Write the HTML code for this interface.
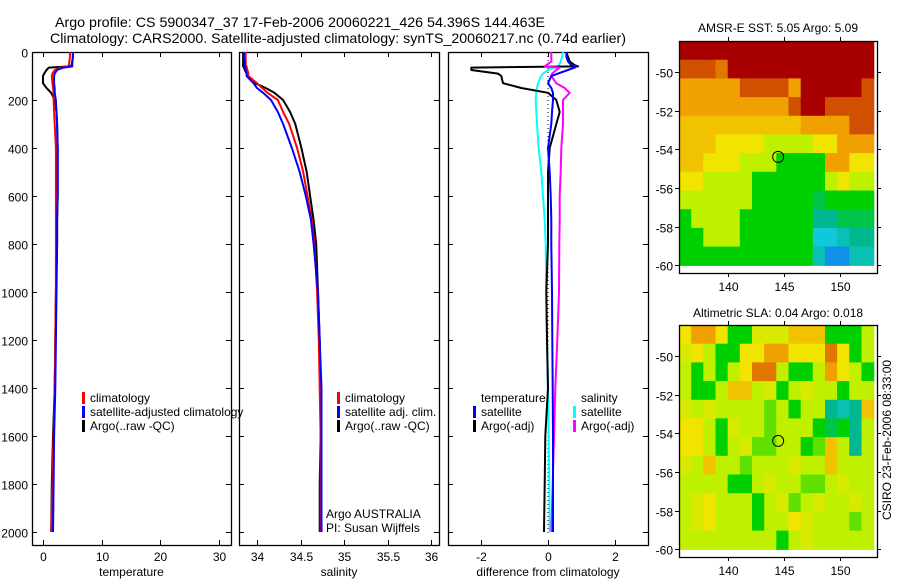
<!DOCTYPE html>
<html><head><meta charset="utf-8"><style>
html,body{margin:0;padding:0;background:#fff;}
svg{display:block;font-family:"Liberation Sans",sans-serif;}
</style></head><body>
<svg id="fig" width="900" height="580" viewBox="0 0 900 580" xmlns="http://www.w3.org/2000/svg">
<text x="55" y="27" font-size="14" textLength="490" lengthAdjust="spacingAndGlyphs">Argo profile: CS 5900347_37 17-Feb-2006 20060221_426 54.396S 144.463E</text>
<text x="50" y="43" font-size="14" textLength="576" lengthAdjust="spacingAndGlyphs">Climatology: CARS2000. Satellite-adjusted climatology: synTS_20060217.nc (0.74d earlier)</text>
<text x="778" y="32" font-size="12" text-anchor="middle">AMSR-E SST: 5.05 Argo: 5.09</text>
<text x="778" y="317" font-size="12" text-anchor="middle">Altimetric SLA: 0.04 Argo: 0.018</text>
<text transform="translate(891,440) rotate(-90)" font-size="12" text-anchor="middle">CSIRO 23-Feb-2006 08:33:00</text>
</svg>
<script>
// ---------- data ----------
const depths = [0,20,40,55,60,65,75,90,100,130,150,170,200,250,300,400,500,600,700,800,1000,1200,1400,1600,1800,2000];
const tempClim = [4.6,4.6,4.5,4.4,4.3,3.0,2.0,1.6,1.5,1.6,1.7,1.8,1.8,1.9,2.0,2.2,2.2,2.2,2.2,2.2,2.2,2.1,2.0,1.8,1.6,1.4];
const tempSat  = [5.1,5.1,5.0,5.0,5.0,3.5,2.4,2.0,1.9,1.9,2.0,2.0,2.2,2.3,2.4,2.5,2.5,2.5,2.4,2.4,2.3,2.2,2.1,1.9,1.8,1.7];
const tempArgo = [5.1,5.1,5.0,4.9,4.5,1.0,0.6,0.2,0.0,0.0,0.6,1.4,2.0,2.3,2.4,2.5,2.5,2.5,2.4,2.4,2.2,2.1,2.0,1.7,1.5,1.4];
const salClim  = [33.87,33.87,33.87,33.87,33.88,33.88,33.89,33.9,33.9,34.0,34.06,34.12,34.24,34.3,34.37,34.46,34.53,34.58,34.63,34.66,34.69,34.71,34.72,34.73,34.73,34.73];
const salSat   = [33.85,33.85,33.86,33.86,33.86,33.87,33.87,33.88,33.88,33.96,34.0,34.07,34.16,34.24,34.3,34.4,34.49,34.56,34.62,34.65,34.7,34.72,34.74,34.74,34.74,34.74];
const salArgo  = [33.84,33.84,33.84,33.84,33.84,33.85,33.86,33.88,33.89,33.98,34.1,34.2,34.3,34.38,34.44,34.51,34.57,34.61,34.65,34.68,34.7,34.72,34.73,34.73,34.72,34.72];
const dTempSat  = [0.55,0.55,0.6,0.7,0.85,0.8,0.6,0.3,0.1,0.0,0.1,0.15,0.15,0.12,0.1,0.0,0.05,0.08,0.1,0.1,0.12,0.13,0.14,0.15,0.15,0.15];
const dTempArgo = [0.55,0.6,0.65,0.8,0.9,-2.3,-2.3,-1.5,-1.4,-1.35,-0.8,0.0,0.25,0.35,0.25,0.05,0.0,0.0,0.0,0.0,-0.05,-0.03,0.0,-0.08,-0.1,-0.12];
const dSalSat   = [0.45,0.42,0.38,0.33,0.3,0.2,0.0,-0.15,-0.2,-0.3,-0.33,-0.35,-0.37,-0.35,-0.33,-0.28,-0.2,-0.15,-0.1,-0.07,-0.05,-0.03,0.0,0.02,0.04,0.05];
const dSalArgo  = [0.1,0.1,0.1,-0.05,-0.1,0.35,0.25,0.12,0.1,0.25,0.5,0.65,0.45,0.45,0.45,0.4,0.38,0.35,0.35,0.34,0.33,0.28,0.22,0.18,0.14,0.1];
const depthTicks = [0,200,400,600,800,1000,1200,1400,1600,1800,2000];
const tempTicks = [0,10,20,30];
const salTicks = [34,34.5,35,35.5,36];
const diffTicks = [-2,0,2];
const latTicks = [-50,-52,-54,-56,-58,-60];
const lonTicks = [140,145,150];
const argoLon = 144.463, argoLat = -54.396;
// map grids: 12 rows (north->south) x 16 cols (west->east), colour index 1(blue)..9(dark red)
const sstGrid = [
[9,9,9,9,9,9,9,9,9,9,9,9,9,9,9,9],
[8,8,8,7.5,9,9,9,9,9,9,9,9,9,9,9,9],
[7,7,7,7,7,8,8,8,8,7,9,9,9,9,9,8],
[7,7,7,7,7,7,7,7,7,8,9,9,8,8,8,8],
[6.5,6.5,6.5,6.5,6.5,6.5,6.5,6.5,6.5,6.5,7,7,7,7,8,8],
[6.5,6.5,6.5,6,6,6,6,5,5,5,5,6,6,7,7,7],
[6.5,6.5,6,6,6,5,5,5,4,4,4,4,7,7,6,6],
[6,6,5,5,5,5,4,4,4,4,4,4,5,6,5,5],
[5,5,5,5,5,5,4,4,4,4,4,3.5,4,4,4,4],
[4,5,5,5,5,4,4,4,4,4,4,3,3,3.5,3.5,3.5],
[4,4,5,5,5,4,4,4,4,4,4,2,2,2.5,3,3],
[4,4,4,4,4,4,4,4,4,4,4,2.5,1,1,2.5,2.5]];
const slaGrid = [
[6,7,7,6,4,4,5.5,5.5,5.5,6.5,6.5,6.5,4,4,4,5],
[5.5,6,5,4,4,6,6,7,7,6,6,6,7.5,6,4,5],
[5,4,5,4,5,6,7.5,7.5,5,4,4,5,7,6,5,4],
[5,4,4,5,6.5,6.5,5,5.5,4,5,5.5,5,5,4,5,5],
[5.5,5,5.5,5,5,5,5,4.5,5,4,5,5,3,2.5,3,6.5],
[6,6,5,4,5.5,5,5,4.5,5,5,5,4,3.5,4,3,5],
[6,6,5,4,5,5.5,4.5,4.5,5,5,4,4.5,6.5,5,3,5],
[5.5,5,6.5,5,5,4.5,5,5,5,5.5,5,5,6.5,5,5,5],
[5,5,5,5,4,4,5,5.5,5,5,4.5,4.5,5,5.5,5,5],
[5,5.5,6,5,5,5,4,5,5.5,4.5,5,5.5,5,5,5.5,5],
[5,5.5,6,5,5,5,4,5,5,6,5.5,5,5,5,4.5,5],
[5,5,5,5,5,5,5,5,4,5,5.5,5,5,5,5,5]];

// ---------- helpers ----------
const NS="http://www.w3.org/2000/svg";
const svg=document.getElementById('fig');
function mk(tag,attrs,parent){const e=document.createElementNS(NS,tag);for(const k in attrs)e.setAttribute(k,attrs[k]);(parent||svg).appendChild(e);return e;}
const yTop=52, pxPerM=0.24;
const yD = d => yTop + d*pxPerM;
const panels = [
 {x0:32,x1:231,v0:-1.88,v1:32.1,ticks:tempTicks,label:'temperature',name:'temperature-panel'},
 {x0:239,x1:439,v0:33.793,v1:36.09,ticks:salTicks,label:'salinity',name:'salinity-panel'},
 {x0:448,x1:648,v0:-3,v1:3,ticks:diffTicks,label:'difference from climatology',name:'difference-panel'}];
const plotBottom=545;
function xs(p,v){return p.x0+(v-p.v0)/(p.v1-p.v0)*(p.x1-p.x0);}

panels.forEach((p,i)=>{
  const g=mk('g',{});
  
  
  const r=mk('rect',{x:p.x0+0.5,y:yTop+0.5,width:p.x1-p.x0,height:plotBottom-yTop,fill:'none',stroke:'#000','stroke-width':1.3},g);
  
  
  p.ticks.forEach(t=>{
    const x=Math.round(xs(p,t))+0.5;
    mk('line',{x1:x,x2:x,y1:plotBottom,y2:plotBottom-5,stroke:'#000'},g);
    mk('line',{x1:x,x2:x,y1:yTop,y2:yTop+5,stroke:'#000'},g);
    const tx=mk('text',{x:x,y:plotBottom+16,'font-size':12,'text-anchor':'middle'},g);
    tx.textContent=String(t);
    
    
  });
  depthTicks.forEach(d=>{
    const y=Math.round(yD(d))+0.5;
    mk('line',{x1:p.x0,x2:p.x0+5,y1:y,y2:y,stroke:'#000'},g);
    mk('line',{x1:p.x1-5,x2:p.x1,y1:y,y2:y,stroke:'#000'},g);
    if(i===0){
      const tx=mk('text',{x:p.x0-4,y:y+5,'font-size':12,'text-anchor':'end'},g);
      tx.textContent=String(d);
      
      
    }
  });
  const lab=mk('text',{x:(p.x0+p.x1)/2,y:576,'font-size':12,'text-anchor':'middle'},g);
  lab.textContent=p.label;
  
  
});

function profile(p,vals,color,name,w){
  let pts=vals.map((v,k)=>xs(p,v).toFixed(1)+','+yD(depths[k]).toFixed(1)).join(' ');
  const pl=mk('polyline',{points:pts,fill:'none',stroke:color,'stroke-width':w||2,'stroke-linejoin':'round'});
  
  
}
profile(panels[0],tempArgo,'#000','temp-argo-line');
profile(panels[0],tempClim,'#f00','temp-climatology-line');
profile(panels[0],tempSat,'#00f','temp-satellite-line');
profile(panels[1],salArgo,'#000','sal-argo-line');
profile(panels[1],salClim,'#f00','sal-climatology-line');
profile(panels[1],salSat,'#00f','sal-satellite-line');
{const x=xs(panels[2],0);const zl=mk('line',{x1:x,x2:x,y1:yTop,y2:plotBottom-10,stroke:'#000','stroke-dasharray':'1,3'});

}
profile(panels[2],dSalSat,'#0ff','diff-sal-satellite-line');
profile(panels[2],dTempArgo,'#000','diff-temp-argo-line');
profile(panels[2],dSalArgo,'#f0f','diff-sal-argo-line');
profile(panels[2],dTempSat,'#00f','diff-temp-satellite-line');

function legend(x,y,color,text,name){
  const g=mk('g',{});
  
  
  if(color) mk('rect',{x:x,y:y-10,width:3,height:12,fill:color},g);
  const t=mk('text',{x:x+8,y:y,'font-size':12},g);t.textContent=text;
}
legend(82,402,'#f00','climatology','legend-climatology');
legend(82,416,'#00f','satellite-adjusted climatology','legend-satellite-adjusted');
legend(82,430,'#000','Argo(..raw -QC)','legend-argo');
legend(337,402,'#f00','climatology','legend-sal-climatology');
legend(337,416,'#00f','satellite adj. clim.','legend-sal-satellite');
legend(337,430,'#000','Argo(..raw -QC)','legend-sal-argo');
legend(318,518,null,'Argo AUSTRALIA','argo-australia-label');
legend(318,532,null,'PI: Susan Wijffels','pi-label');
legend(473,402,null,'temperature','legend-temperature-header');
legend(473,416,'#00f','satellite','legend-temp-satellite');
legend(473,430,'#000','Argo(-adj)','legend-temp-argo');
legend(573,402,null,'salinity','legend-salinity-header');
legend(573,416,'#0ff','satellite','legend-sal-sat');
legend(573,430,'#f0f','Argo(-adj)','legend-sal-argo-adj');

const cmap={1:[16,144,232],2:[16,200,216],3:[0,184,144],4:[0,208,0],5:[190,240,0],6:[240,228,0],7:[240,160,0],8:[208,80,0],9:[168,0,0]};
function col(v){const a=Math.floor(v),b=Math.min(9,a+1),f=v-a;const c1=cmap[a],c2=cmap[b];
 return 'rgb('+c1.map((c,k)=>Math.round(c+(c2[k]-c)*f)).join(',')+')';}
function drawMap(top,grid,name){
  const x0=679,x1=877,y1=top+232;
  const lon0=135.6,lon1=153.3,lat0=-48.4,lat1=-60.4;
  const lx=v=>x0+(v-lon0)/(lon1-lon0)*(x1-x0);
  const ly=v=>top+(v-lat0)/(lat1-lat0)*(y1-top);
  const g=mk('g',{});
  
  
  const nr=grid.length,nc=grid[0].length;
  const dLon=(153.0-lon0)/nc,dLat=(-60.0-lat0)/nr;
  grid.forEach((row,r)=>row.forEach((v,c)=>{
    const xa=lx(lon0+c*dLon),xb=lx(lon0+(c+1)*dLon),ya=ly(lat0+r*dLat),yb=ly(lat0+(r+1)*dLat);
    const cell=mk('rect',{x:xa.toFixed(1),y:ya.toFixed(1),width:(xb-xa+0.6).toFixed(1),height:(yb-ya+0.6).toFixed(1),fill:col(v)},g);
    
    
  }));
  const fr=mk('rect',{x:x0+0.5,y:top+0.5,width:x1-x0,height:y1-top,fill:'none',stroke:'#000','stroke-width':1.3},g);
  
  
  latTicks.forEach(t=>{const y=Math.round(ly(t))+0.5;
    mk('line',{x1:x0-4,x2:x0,y1:y,y2:y,stroke:'#000'},g);
    mk('line',{x1:x1,x2:x1+4,y1:y,y2:y,stroke:'#000'},g);
    const tx=mk('text',{x:x0-6,y:y+5,'font-size':12,'text-anchor':'end'},g);tx.textContent=String(t);
    
    });
  lonTicks.forEach(t=>{const x=Math.round(lx(t))+0.5;
    mk('line',{x1:x,x2:x,y1:top-4,y2:top,stroke:'#000'},g);
    mk('line',{x1:x,x2:x,y1:y1,y2:y1+4,stroke:'#000'},g);
    const tx=mk('text',{x:x,y:y1+18,'font-size':12,'text-anchor':'middle'},g);tx.textContent=String(t);
    
    });
  const m=mk('circle',{cx:lx(argoLon),cy:ly(argoLat),r:5.5,fill:'none',stroke:'#000','stroke-width':1},g);
  
  
}
drawMap(41,sstGrid,'sst-map');
drawMap(325,slaGrid,'sla-map');
</script>
</body></html>
